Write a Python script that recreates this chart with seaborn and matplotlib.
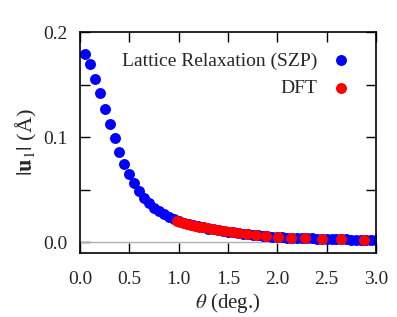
import numpy as np
import pandas as pd
import seaborn as sns
import matplotlib.pyplot as plt
from matplotlib.ticker import MultipleLocator

# lattice relaxation (SZP) data
theta_lr = [0.05, 0.10, 0.15, 0.20, 0.25, 0.30, 0.35, 0.40, 0.45, 0.50,
            0.55, 0.60, 0.65, 0.70, 0.75, 0.80, 0.85, 0.90, 0.95, 1.00,
            1.05, 1.10, 1.15, 1.20, 1.25, 1.30, 1.35, 1.40, 1.45, 1.50,
            1.55, 1.60, 1.65, 1.70, 1.75, 1.80, 1.85, 1.90, 1.95, 2.00,
            2.05, 2.10, 2.15, 2.20, 2.25, 2.30, 2.35, 2.40, 2.45, 2.50,
            2.55, 2.60, 2.65, 2.70, 2.75, 2.80, 2.85, 2.90, 2.95, 3.00]
u_lr = [0.179, 0.1695, 0.156, 0.142, 0.127, 0.113, 0.099, 0.086, 0.075, 0.065,
        0.056, 0.049, 0.042, 0.037, 0.0330, 0.0296, 0.0266, 0.0240, 0.0218, 0.0198,
        0.0185, 0.0173, 0.0161, 0.0151, 0.0141, 0.0131, 0.0123, 0.0115, 0.0107, 0.0100,
        0.0093, 0.0086, 0.0080, 0.0075, 0.0070, 0.0065, 0.0060, 0.0056, 0.0052, 0.0048,
        0.0046, 0.0044, 0.0042, 0.0040, 0.0039, 0.0037, 0.0036, 0.0034, 0.0033, 0.0032,
        0.0030, 0.0029, 0.0028, 0.0027, 0.0026, 0.0025, 0.0024, 0.0023, 0.0022, 0.0021]

# DFT data (commensurate angles)
theta_dft = [0.987, 1.018, 1.050, 1.085, 1.121, 1.161, 1.203, 1.248, 1.297, 1.350,
             1.408, 1.470, 1.538, 1.613, 1.696, 1.788, 1.890, 2.005, 2.134, 2.281,
             2.450, 2.646, 2.876]
u_dft = [0.0203, 0.0193, 0.0185, 0.0176, 0.0168, 0.0159, 0.0150, 0.0141, 0.0132, 0.0123,
         0.0114, 0.0104, 0.0095, 0.0085, 0.0075, 0.0066, 0.0057, 0.0048, 0.0043, 0.0038,
         0.0033, 0.0028, 0.0024]

sns.set_style("ticks")
plt.rcParams['font.family'] = ['Liberation Serif', 'DejaVu Serif']
plt.rcParams['mathtext.fontset'] = 'stix'

fig = plt.figure(figsize=(3.97, 3.17), dpi=100)
ax = fig.add_axes([0.2015, 0.202, 0.7455, 0.697])

ax.axhline(0, color='#b0b0b0', lw=1, zorder=1)

sns.scatterplot(x=theta_lr, y=u_lr, ax=ax, color='blue', s=62, linewidth=0,
                label='Lattice Relaxation (SZP)', zorder=2)
sns.scatterplot(x=theta_dft, y=u_dft, ax=ax, color='red', s=62, linewidth=0,
                label='DFT', zorder=3)

ax.set_xlim(0, 3)
ax.set_ylim(-0.0102, 0.2003)
ax.xaxis.set_major_locator(MultipleLocator(0.5))
ax.yaxis.set_major_locator(MultipleLocator(0.1))
ax.yaxis.set_minor_locator(MultipleLocator(0.05))
ax.xaxis.set_major_formatter(plt.FormatStrFormatter('%.1f'))
ax.yaxis.set_major_formatter(plt.FormatStrFormatter('%.1f'))
ax.tick_params(which='both', direction='in', top=True, right=True,
               length=7, width=1, labelsize=14, color='black')
ax.tick_params(axis='x', pad=13)
ax.tick_params(axis='y', pad=9)
for sp in ax.spines.values():
    sp.set_linewidth(1.2)
    sp.set_color('black')

ax.set_xlabel(r'$\theta$ (deg.)', fontsize=15, labelpad=2)
ax.set_ylabel(r'$|\mathbf{u}_1|$ (Å)', fontsize=16, labelpad=3)

ax.legend(loc='upper right', bbox_to_anchor=(0.975, 0.945), markerfirst=False,
          frameon=False, fontsize=14, handletextpad=0.25, labelspacing=0.5,
          borderaxespad=0, markerscale=1.0)

fig.savefig('out.png', dpi=100)
